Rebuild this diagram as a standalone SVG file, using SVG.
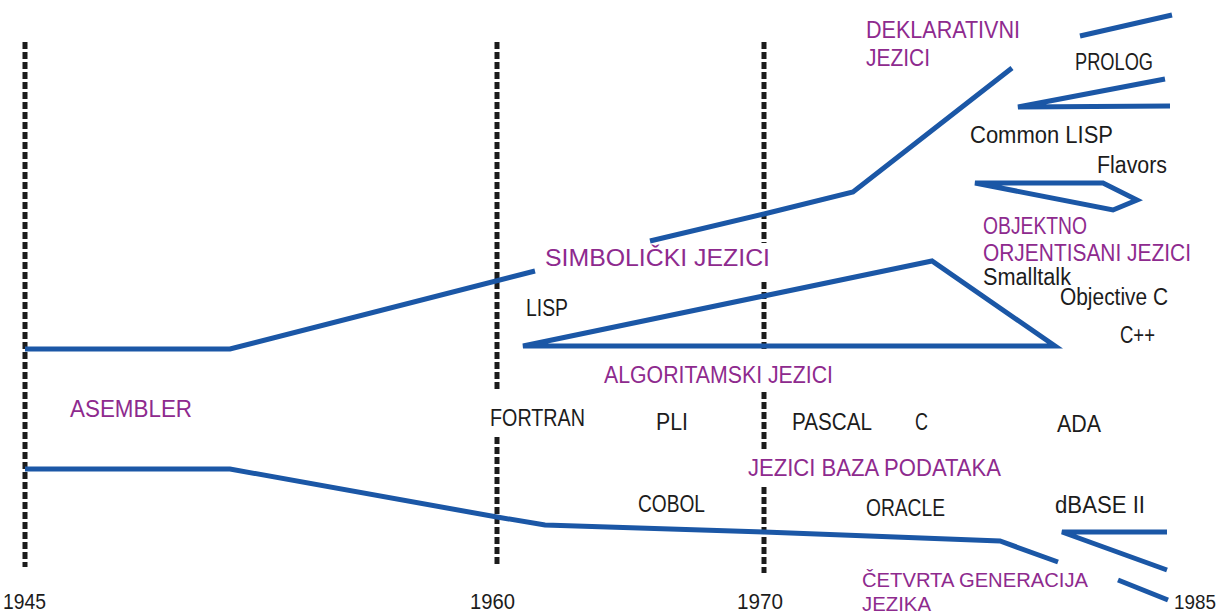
<svg xmlns="http://www.w3.org/2000/svg" width="1220" height="615" viewBox="0 0 1220 615">
<style>
.t{font-family:"Liberation Sans",Arial,sans-serif;font-size:23px;fill:#1c1c1c}
.y{font-size:22px}
.s{font-size:20px}
.p{fill:#8e2a8e}
.ln{fill:none;stroke:#1b57a6;stroke-width:5;stroke-linejoin:miter;stroke-linecap:butt}
.dash{stroke:#1c1c1c;stroke-width:5;stroke-dasharray:7 3;fill:none}
</style>
<rect width="1220" height="615" fill="#ffffff"/>
<g id="timeline">
<line class="dash" x1="25" y1="42" x2="25" y2="567"/>
<line class="dash" x1="497" y1="42" x2="497" y2="392"/>
<line class="dash" x1="497" y1="437" x2="497" y2="567"/>
<line class="dash" x1="764" y1="42" x2="764" y2="243"/>
<line class="dash" x1="764" y1="282" x2="764" y2="352"/>
<line class="dash" x1="764" y1="392" x2="764" y2="450"/>
<line class="dash" x1="764" y1="487" x2="764" y2="573"/>
<text class="t y" x="3" y="609" textLength="43" lengthAdjust="spacingAndGlyphs">1945</text>
<text class="t y" x="470" y="609" textLength="45" lengthAdjust="spacingAndGlyphs">1960</text>
<text class="t y" x="737" y="609" textLength="46" lengthAdjust="spacingAndGlyphs">1970</text>
<text class="t s" x="1174" y="609" textLength="42" lengthAdjust="spacingAndGlyphs">1985</text>
</g>
<g id="connectors">
<polyline class="ln" points="25,349 230,349 535,271"/>
<polyline class="ln" points="650,241 764,214 853,192 1012,68"/>
<polyline class="ln" points="1080,36 1172,15"/>
<polyline class="ln" points="1165,79 1018,107 1170,106"/>
<polygon class="ln" points="975,183 1103,183 1137,200 1113,210"/>
<polygon class="ln" points="523,346 932,261 1055,346"/>
<polyline class="ln" points="25,469 230,469 497,517 545,525 764,532 1000,541 1058,562"/>
<polyline class="ln" points="1167,532 1062,532 1167,570"/>
<polyline class="ln" points="1118,580 1168,600"/>
</g>
<g id="asembler"><text class="t p" x="70" y="417" textLength="122" lengthAdjust="spacingAndGlyphs">ASEMBLER</text></g>
<g id="simbolicki">
<text class="t p" x="545" y="266" textLength="225" lengthAdjust="spacingAndGlyphs">SIMBOLIČKI JEZICI</text>
<text class="t" x="526" y="316" textLength="42" lengthAdjust="spacingAndGlyphs">LISP</text>
</g>
<g id="deklarativni">
<text class="t p" x="866" y="38" textLength="154" lengthAdjust="spacingAndGlyphs">DEKLARATIVNI</text>
<text class="t p" x="866" y="66" textLength="64" lengthAdjust="spacingAndGlyphs">JEZICI</text>
<text class="t" x="1075" y="70" textLength="78" lengthAdjust="spacingAndGlyphs">PROLOG</text>
<text class="t" x="970" y="143" textLength="143" lengthAdjust="spacingAndGlyphs">Common LISP</text>
<text class="t" x="1097" y="173" textLength="70" lengthAdjust="spacingAndGlyphs">Flavors</text>
</g>
<g id="objektno">
<text class="t p" x="983" y="234" textLength="104" lengthAdjust="spacingAndGlyphs">OBJEKTNO</text>
<text class="t p" x="983" y="261" textLength="208" lengthAdjust="spacingAndGlyphs">ORJENTISANI JEZICI</text>
<text class="t" x="983" y="285" textLength="88" lengthAdjust="spacingAndGlyphs">Smalltalk</text>
<text class="t" x="1060" y="305" textLength="108" lengthAdjust="spacingAndGlyphs">Objective C</text>
<text class="t" x="1120" y="343" textLength="35" lengthAdjust="spacingAndGlyphs">C++</text>
</g>
<g id="algoritamski">
<text class="t p" x="604" y="383" textLength="229" lengthAdjust="spacingAndGlyphs">ALGORITAMSKI JEZICI</text>
<text class="t" x="490" y="426" textLength="95" lengthAdjust="spacingAndGlyphs">FORTRAN</text>
<text class="t" x="656" y="430" textLength="32" lengthAdjust="spacingAndGlyphs">PLI</text>
<text class="t" x="792" y="430" textLength="80" lengthAdjust="spacingAndGlyphs">PASCAL</text>
<text class="t" x="915" y="430" textLength="13" lengthAdjust="spacingAndGlyphs">C</text>
<text class="t" x="1057" y="432" textLength="44" lengthAdjust="spacingAndGlyphs">ADA</text>
</g>
<g id="baze">
<text class="t p" x="748" y="476" textLength="253" lengthAdjust="spacingAndGlyphs">JEZICI BAZA PODATAKA</text>
<text class="t" x="638" y="512" textLength="67" lengthAdjust="spacingAndGlyphs">COBOL</text>
<text class="t" x="866" y="516" textLength="79" lengthAdjust="spacingAndGlyphs">ORACLE</text>
<text class="t" x="1055" y="513" textLength="90" lengthAdjust="spacingAndGlyphs">dBASE II</text>
</g>
<g id="cetvrta">
<text class="t p s" x="862" y="587" textLength="226" lengthAdjust="spacingAndGlyphs">ČETVRTA GENERACIJA</text>
<text class="t p s" x="862" y="611" textLength="69" lengthAdjust="spacingAndGlyphs">JEZIKA</text>
</g>
</svg>
